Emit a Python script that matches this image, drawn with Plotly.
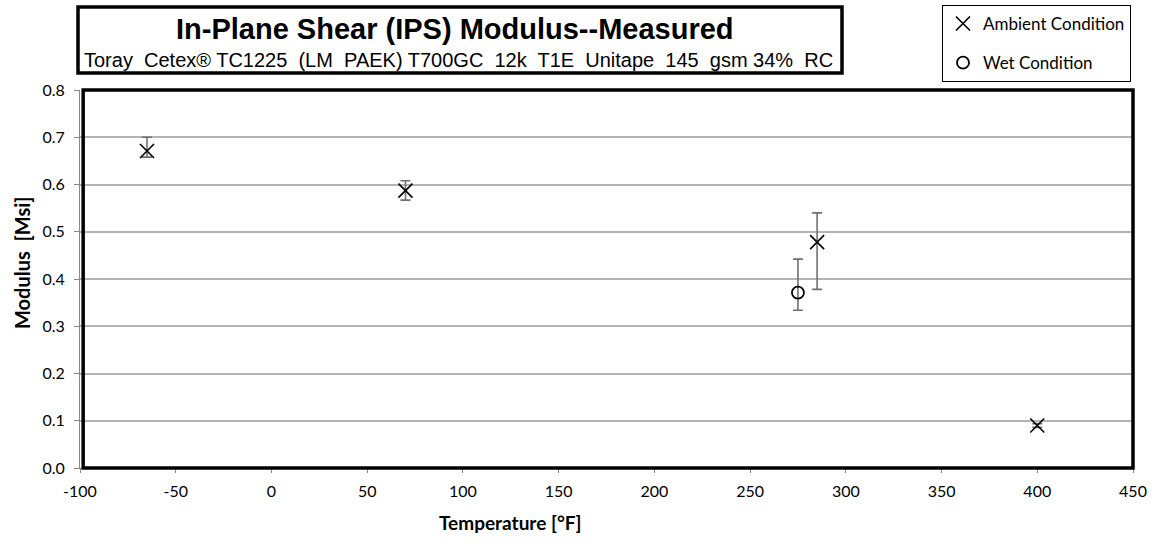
import plotly.graph_objects as go

# Data
amb_temp = [-65, 70, 285, 400]
amb_mod = [0.671, 0.587, 0.478, 0.090]
amb_err_plus = [0.029, 0.021, 0.062, 0.004]
amb_err_minus = [0.013, 0.020, 0.100, 0.004]

wet_temp = [275]
wet_mod = [0.371]
wet_err_plus = [0.071]
wet_err_minus = [0.037]

x_ticks = [-100, -50, 0, 50, 100, 150, 200, 250, 300, 350, 400, 450]
y_ticks = [0.0, 0.1, 0.2, 0.3, 0.4, 0.5, 0.6, 0.7, 0.8]

title = "In-Plane Shear (IPS) Modulus--Measured"
subtitle = "Toray  Cetex® TC1225  (LM  PAEK) T700GC  12k  T1E  Unitape  145  gsm 34%  RC"
x_title = "Temperature [°F]"
y_title = "Modulus  [Msi]"

fig = go.Figure()
fig.add_trace(go.Scatter(
    x=amb_temp, y=amb_mod, mode="markers", name="Ambient Condition",
    legendgroup="a",
    marker=dict(symbol="x-thin", size=14, line=dict(color="black", width=1.6), color="black"),
    error_y=dict(type="data", symmetric=False, array=amb_err_plus, arrayminus=amb_err_minus,
                 color="#707070", thickness=1.6, width=5),
))
fig.add_trace(go.Scatter(
    x=wet_temp, y=wet_mod, mode="markers", name="Wet Condition",
    legendgroup="b",
    marker=dict(symbol="circle-open", size=12, line=dict(color="black", width=1.8), color="black"),
    error_y=dict(type="data", symmetric=False, array=wet_err_plus, arrayminus=wet_err_minus,
                 color="#707070", thickness=1.6, width=5),
))

L, R, T, B = 80, 23, 90, 77
pw = 1156 - L - R
ph = 545 - T - B

def px(xp):
    return (xp - L) / pw

def py(yp):
    return (545 - B - yp) / ph

HEAD = "Liberation Sans, Arial, sans-serif"
BODY = "Lato, Noto Sans, sans-serif"

fig.update_layout(
    width=1156, height=545,
    margin=dict(l=L, r=R, t=T, b=B, autoexpand=False),
    paper_bgcolor="white", plot_bgcolor="white",
    font=dict(family=BODY, color="black"),
    showlegend=True,
    legend=dict(
        x=px(942), y=py(5), xanchor="left", yanchor="top",
        bgcolor="white", bordercolor="black", borderwidth=1,
        font=dict(family=BODY, size=17, color="black"),
        tracegroupgap=14, traceorder="grouped", itemwidth=30,
    ),
    xaxis=dict(
        range=[-100, 450], tickvals=x_ticks, ticktext=[str(v) for v in x_ticks],
        showgrid=False, zeroline=False, automargin=False,
        showline=True, linecolor="#888888", linewidth=1,
        ticks="outside", ticklen=4, tickcolor="#888888", ticklabelstandoff=5,
        tickfont=dict(size=16),
    ),
    yaxis=dict(
        range=[0, 0.8], tickvals=y_ticks, ticktext=[f"{v:.1f}" for v in y_ticks],
        showgrid=True, gridcolor="#b4b4b4", gridwidth=1.5, zeroline=False, automargin=False,
        showline=True, linecolor="#888888", linewidth=1,
        ticks="outside", ticklen=5, tickcolor="#888888", ticklabelstandoff=6,
        tickfont=dict(size=16),
    ),
    shapes=[
        dict(type="rect", xref="paper", yref="paper", x0=0.003, x1=1.0, y0=0.0, y1=1.0,
             line=dict(color="black", width=3.5), layer="above"),
        dict(type="rect", xref="paper", yref="paper", x0=px(78), x1=px(842), y0=py(73), y1=py(7),
             line=dict(color="black", width=3.5), fillcolor="white"),
    ],
    annotations=[
        dict(text=f"<b>{title}</b>", xref="paper", yref="paper", x=px(455), y=py(29),
             xanchor="center", yanchor="middle", showarrow=False,
             font=dict(family=HEAD, size=29, color="black")),
        dict(text=subtitle, xref="paper", yref="paper", x=px(458), y=py(60),
             xanchor="center", yanchor="middle", showarrow=False,
             font=dict(family=HEAD, size=20, color="black")),
        dict(text=f"<b>{y_title}</b>", xref="paper", yref="paper", x=px(22), y=py(263),
             xanchor="center", yanchor="middle", showarrow=False, textangle=-90,
             font=dict(family=BODY, size=20, color="black")),
        dict(text=f"<b>{x_title}</b>", xref="paper", yref="paper", x=px(510), y=py(522),
             xanchor="center", yanchor="middle", showarrow=False,
             font=dict(family=BODY, size=19, color="black")),
    ],
)

fig.write_html("out.html", config={"displayModeBar": False},
               post_script="document.body.style.margin='0px';")
